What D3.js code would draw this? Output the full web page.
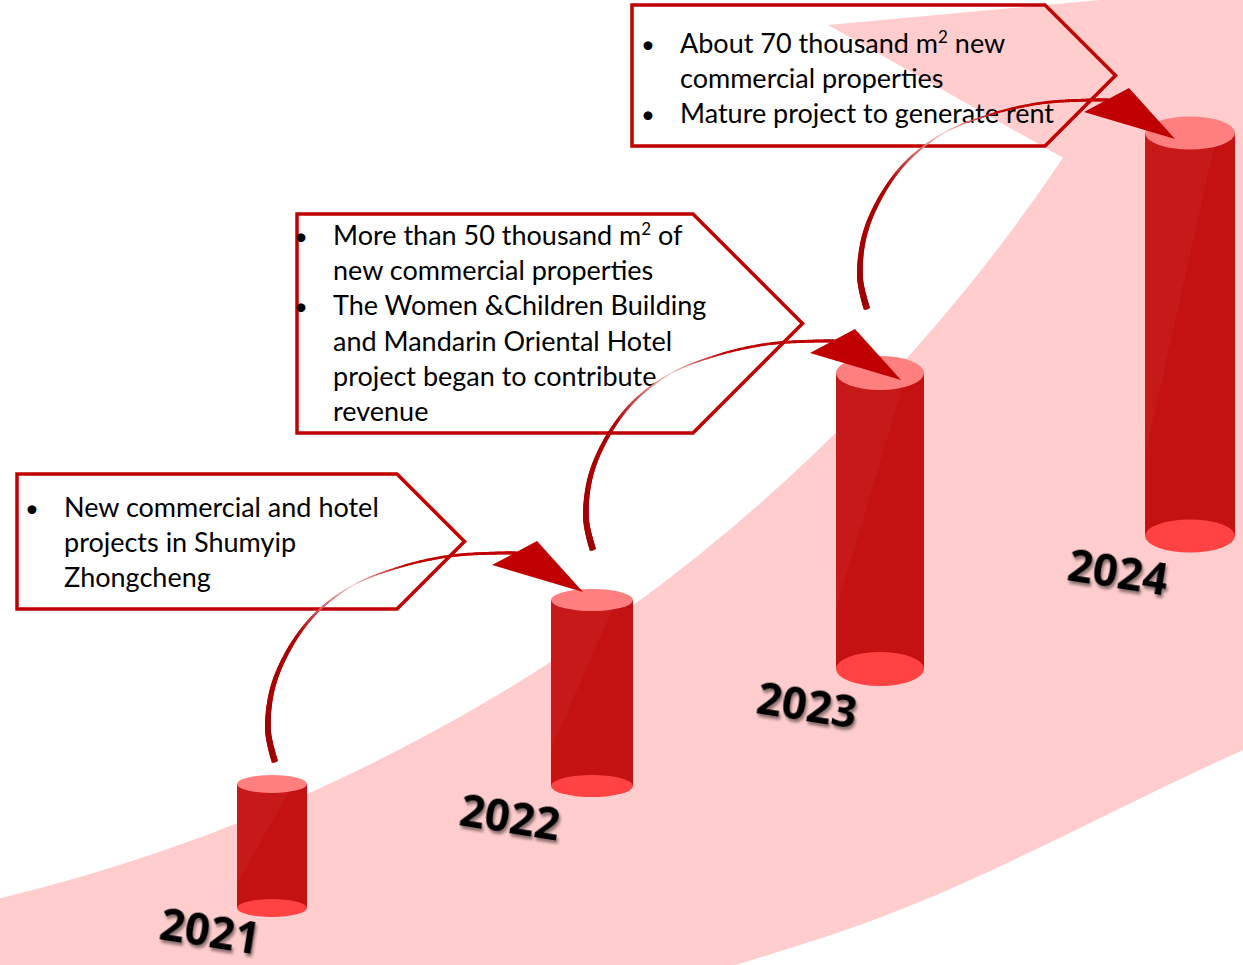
<!DOCTYPE html>
<html>
<head>
<meta charset="utf-8">
<script src="https://cdn.jsdelivr.net/npm/d3@7"></script>
<style>
body { margin: 0; background: #fff; }
</style>
</head>
<body>
<div id="chart"></div>
<script>
// cylinder per year, height is the relative growth
var years = ["2021", "2022", "2023", "2024"];
var heights = [1.24, 1.86, 2.96, 4.03];

// callouts, one per arrow (the year the arrow points to)
var noteYears = ["2022", "2023", "2024"];
var note2022 = [["New commercial and hotel", "projects in Shumyip", "Zhongcheng"]];
var note2023 = [["More than 50 thousand m^2 of", "new commercial properties"],
	["The Women &Children Building", "and Mandarin Oriental Hotel", "project began to contribute", "revenue"]];
var note2024 = [["About 70 thousand m^2 new", "commercial properties"],
	["Mature project to generate rent"]];
var notes = [note2022, note2023, note2024];

var width = 1243, height = 965;

// where each cylinder stands on the band
var baseX = d3.scaleOrdinal().domain(years).range([272, 592, 880, 1190]);
var baseY = d3.scaleOrdinal().domain(years).range([908, 786, 669, 536]);
var radX = d3.scaleOrdinal().domain(years).range([35, 41, 44, 45]);
var radY = d3.scaleOrdinal().domain(years).range([9, 11, 17, 16.5]);
var labelShift = d3.scaleOrdinal().domain(years).range([[6, -10], [-8, -2], [4, 3], [6, 3]]);
var h = d3.scaleLinear().domain([0, 1]).range([0, 100]);

function topY(d, i) { return baseY(d) - h(heights[i]); }

// callout boxes (arrow shaped) and text offsets inside them
var boxLayout = [
	{x: 17, y: 474, w: 380, h: 135, bullet: 15, text: 47, first: 43},
	{x: 297, y: 214, w: 396, h: 219, bullet: 4, text: 36, first: 31},
	{x: 632, y: 5, w: 413, h: 141, bullet: 16, text: 48, first: 48}
];
var lineH = 35.2;

// curved arrow shape, relative to its tail
var arrowLine = [[0, 0], [-7, -32], [0, -82], [32, -139], [75, -175], [125, -195], [175, -206], [225, -209], [242, -209]];
var arrowHead = [[217, -197], [262, -221], [308, -170]];
var arrowTail = [[3, -22], [1, -50], [-13, -64]]; // offset from the top of the source cylinder

var svg = d3.select("#chart")
	.append("svg")
	.attr("width", width)
	.attr("height", height);

var defs = svg.append("defs");

var grad = defs.append("linearGradient")
	.attr("id", "body")
	.attr("x1", 0).attr("y1", 0).attr("x2", 1).attr("y2", 1);
grad.append("stop").attr("offset", 0).attr("stop-color", "#c71919");
grad.append("stop").attr("offset", 0.4).attr("stop-color", "#c71919");
grad.append("stop").attr("offset", 0.4).attr("stop-color", "#c41111");
grad.append("stop").attr("offset", 1).attr("stop-color", "#c41111");

var shadow = defs.append("filter").attr("id", "shadow")
	.attr("x", "-20%").attr("y", "-30%").attr("width", "140%").attr("height", "160%");
shadow.append("feDropShadow")
	.attr("dx", 2).attr("dy", 3)
	.attr("stdDeviation", 1.8)
	.attr("flood-color", "#000")
	.attr("flood-opacity", 0.45);

// pink band
var c = [-418, -835], r = 1783;
function arcY(x) { return c[1] + Math.sqrt(r * r - (x - c[0]) * (x - c[0])); }
var a0 = Math.atan2(arcY(0) - c[1], 0 - c[0]),
	a1 = Math.atan2(arcY(1063) - c[1], 1063 - c[0]);

var band = d3.path();
band.moveTo(0, height);
band.lineTo(0, arcY(0));
band.arc(c[0], c[1], r, a0, a1, true);
band.lineTo(828, 25);
band.lineTo(1100, 0);
band.lineTo(width, 0);
band.lineTo(width, 750);
band.bezierCurveTo(1131, 800, 1019, 862, 907, 907);
band.bezierCurveTo(850, 930, 792, 948, 735, height);
band.closePath();

svg.append("path")
	.attr("d", band.toString())
	.attr("fill", "#ffcdcd");

// cylinders
var cyl = svg.selectAll(".cyl")
	.data(years)
	.enter().append("g")
	.attr("class", "cyl");

cyl.append("rect")
	.attr("x", function(d) { return baseX(d) - radX(d); })
	.attr("y", topY)
	.attr("width", function(d) { return 2 * radX(d); })
	.attr("height", function(d, i) { return h(heights[i]); })
	.attr("fill", "url(#body)");

cyl.append("ellipse")
	.attr("cx", baseX)
	.attr("cy", baseY)
	.attr("rx", radX)
	.attr("ry", radY)
	.attr("fill", "#ff4343");

cyl.append("ellipse")
	.attr("cx", baseX)
	.attr("cy", topY)
	.attr("rx", radX)
	.attr("ry", radY)
	.attr("fill", "#ff7f7f");

// year labels
svg.selectAll(".year")
	.data(years)
	.enter().append("text")
	.attr("class", "year")
	.attr("transform", function(d) {
		var s = labelShift(d);
		return "translate(" + (baseX(d) - radX(d) - 33 + s[0]) + "," + (baseY(d) + 33 + s[1]) + ") rotate(9)";
	})
	.attr("text-anchor", "middle")
	.attr("dy", "0.36em")
	.attr("font-family", "'Open Sans', sans-serif")
	.attr("font-weight", 700)
	.attr("font-size", 44)
	.attr("fill", "#000")
	.attr("filter", "url(#shadow)")
	.text(function(d) { return d; });

// callouts
function addLine(sel, str) {
	var parts = str.split("^2");
	sel.append("tspan").text(parts[0]);
	if (parts.length > 1) {
		sel.append("tspan").attr("dy", -10).attr("font-size", 17).text("2");
		sel.append("tspan").attr("dy", 10).text(parts[1]);
	}
}

noteYears.forEach(function(yr, k) {
	var b = boxLayout[k];
	var g = svg.append("g").attr("class", "note");

	g.append("polygon")
		.attr("points", [
			[b.x, b.y], [b.x + b.w, b.y], [b.x + b.w + b.h / 2, b.y + b.h / 2],
			[b.x + b.w, b.y + b.h], [b.x, b.y + b.h]
		].join(" "))
		.attr("fill", "none")
		.attr("stroke", "#c00000")
		.attr("stroke-width", 3.5);

	var row = 0;
	notes[k].forEach(function(item) {
		item.forEach(function(str, j) {
			var y = b.y + b.first + row * lineH;
			if (j === 0) {
				g.append("text")
					.attr("x", b.x + b.bullet)
					.attr("y", y)
					.attr("text-anchor", "middle")
					.attr("font-family", "Lato, sans-serif")
					.attr("font-size", 24)
					.attr("fill", "#000")
					.text("\u2022");
			}
			var t = g.append("text")
				.attr("x", b.x + b.text)
				.attr("y", y)
				.attr("font-family", "Lato, sans-serif")
				.attr("font-size", 27)
				.attr("fill", "#000");
			addLine(t, str);
			row++;
		});
	});
});

// curved arrows between the cylinders
var lineGen = d3.line().curve(d3.curveCatmullRom.alpha(0.5));
var widthAt = d3.scaleLinear().domain([0, 0.3, 0.55, 0.75, 1]).range([6.5, 4, 0.9, 2.4, 3.2]);
var colorAt = d3.scaleLinear().domain([0, 0.35, 0.55, 0.7, 1])
	.range(["#a00000", "#b00000", "#f4bcbc", "#c00000", "#c00000"]);

years.slice(0, 3).forEach(function(d, i) {
	var sx = baseX(d) + arrowTail[i][0],
		sy = topY(d, i) + arrowTail[i][1];
	var g = svg.append("g")
		.attr("class", "arrow")
		.attr("transform", "translate(" + sx + "," + sy + ")");

	var guide = g.append("path")
		.attr("d", lineGen(arrowLine))
		.attr("fill", "none")
		.attr("stroke", "none");
	var len = guide.node().getTotalLength();
	var n = 140;
	var pts = d3.range(n + 1).map(function(k) {
		var p = guide.node().getPointAtLength(len * k / n);
		return [p.x, p.y, k / n];
	});
	g.selectAll("line")
		.data(pts.slice(0, n))
		.enter().append("line")
		.attr("x1", function(p) { return p[0]; })
		.attr("y1", function(p) { return p[1]; })
		.attr("x2", function(p, k) { return pts[k + 1][0]; })
		.attr("y2", function(p, k) { return pts[k + 1][1]; })
		.attr("stroke", function(p) { return colorAt(p[2]); })
		.attr("stroke-width", function(p) { return widthAt(p[2]); })
		.attr("stroke-linecap", function(p, k) { return k === 0 ? "butt" : "round"; });

	g.append("polygon")
		.attr("points", arrowHead.join(" "))
		.attr("fill", "#c00000");
});
</script>
</body>
</html>
